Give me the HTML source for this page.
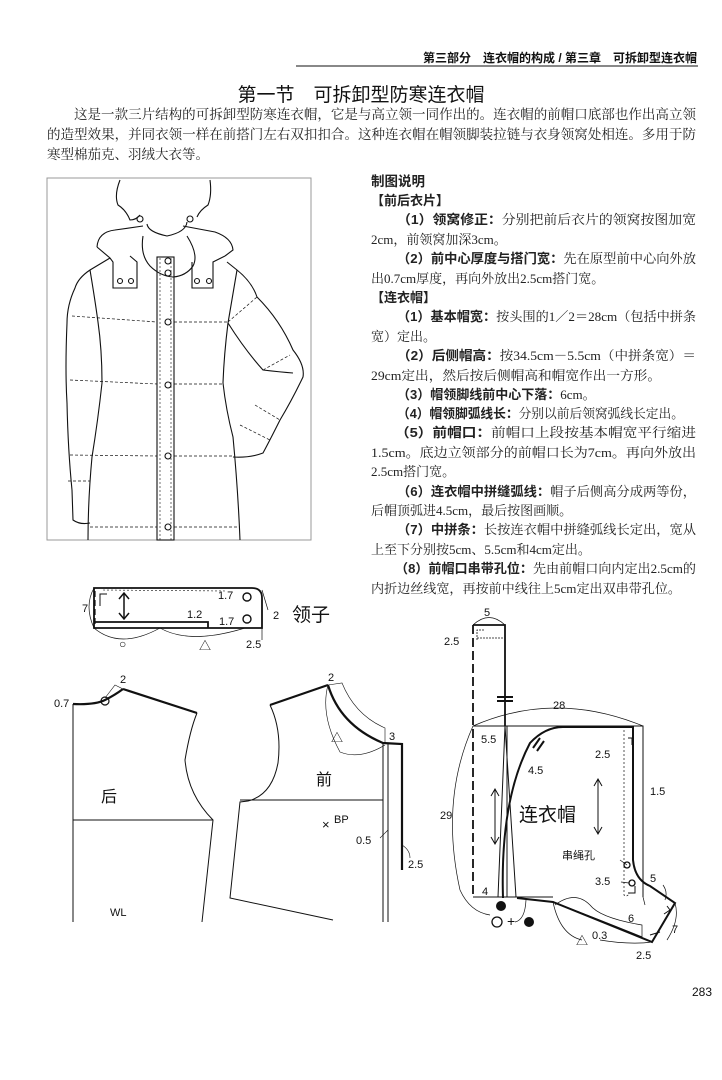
<!DOCTYPE html>
<html><head><meta charset="utf-8">
<style>
html,body{margin:0;padding:0;background:#fff;}
svg{display:block;}
.s{font-family:"Liberation Serif","Noto Serif CJK SC",serif;}
.h{font-family:"Liberation Sans","Noto Sans CJK SC",sans-serif;}
</style></head><body>
<svg width="722" height="1080" viewBox="0 0 722 1080" xmlns="http://www.w3.org/2000/svg" fill="none" stroke="#111" stroke-width="1">
<!-- header -->
<text x="697" y="62" text-anchor="end" class="h" font-size="12" font-weight="bold" fill="#111" stroke="none">第三部分　连衣帽的构成 / 第三章　可拆卸型连衣帽</text>
<line x1="296" y1="66" x2="698" y2="66" stroke-width="1"/>
<text x="361" y="101" text-anchor="middle" class="h" font-size="19" fill="#111" stroke="none">第一节　可拆卸型防寒连衣帽</text>
<g class="s" font-size="13.5" fill="#222" stroke="none">
<text x="74" y="119" textLength="622" lengthAdjust="spacingAndGlyphs">这是一款三片结构的可拆卸型防寒连衣帽，它是与高立领一同作出的。连衣帽的前帽口底部也作出高立领</text>
<text x="47" y="139" textLength="649" lengthAdjust="spacingAndGlyphs">的造型效果，并同衣领一样在前搭门左右双扣扣合。这种连衣帽在帽领脚装拉链与衣身领窝处相连。多用于防</text>
<text x="47" y="159">寒型棉茄克、羽绒大衣等。</text>
</g>
<!-- right column -->
<g class="s" font-size="13" fill="#222" stroke="none">
<text x="371" y="186" class="h" font-size="13.5" font-weight="bold">制图说明</text>
<text x="371" y="205" class="h" font-weight="bold">【前后衣片】</text>
<text x="397" y="224" textLength="299" lengthAdjust="spacingAndGlyphs"><tspan class="h" font-weight="bold">（1）领窝修正：</tspan>分别把前后衣片的领窝按图加宽</text>
<text x="371" y="244">2cm，前领窝加深3cm。</text>
<text x="397" y="263" textLength="299" lengthAdjust="spacingAndGlyphs"><tspan class="h" font-weight="bold">（2）前中心厚度与搭门宽：</tspan>先在原型前中心向外放</text>
<text x="371" y="283">出0.7cm厚度，再向外放出2.5cm搭门宽。</text>
<text x="371" y="302" class="h" font-weight="bold">【连衣帽】</text>
<text x="397" y="321" textLength="299" lengthAdjust="spacingAndGlyphs"><tspan class="h" font-weight="bold">（1）基本帽宽：</tspan>按头围的1／2＝28cm（包括中拼条</text>
<text x="371" y="341">宽）定出。</text>
<text x="397" y="360" textLength="299" lengthAdjust="spacingAndGlyphs"><tspan class="h" font-weight="bold">（2）后侧帽高：</tspan>按34.5cm－5.5cm（中拼条宽）＝</text>
<text x="371" y="380" textLength="290" lengthAdjust="spacingAndGlyphs">29cm定出，然后按后侧帽高和帽宽作出一方形。</text>
<text x="397" y="399"><tspan class="h" font-weight="bold">（3）帽领脚线前中心下落：</tspan>6cm。</text>
<text x="397" y="418" textLength="287" lengthAdjust="spacingAndGlyphs"><tspan class="h" font-weight="bold">（4）帽领脚弧线长：</tspan>分别以前后领窝弧线长定出。</text>
<text x="395" y="437" textLength="301" lengthAdjust="spacingAndGlyphs"><tspan class="h" font-weight="bold">（5）前帽口：</tspan>前帽口上段按基本帽宽平行缩进</text>
<text x="371" y="457" textLength="325" lengthAdjust="spacingAndGlyphs">1.5cm。底边立领部分的前帽口长为7cm。再向外放出</text>
<text x="371" y="476">2.5cm搭门宽。</text>
<text x="397" y="496" textLength="299" lengthAdjust="spacingAndGlyphs"><tspan class="h" font-weight="bold">（6）连衣帽中拼缝弧线：</tspan>帽子后侧高分成两等份，</text>
<text x="371" y="515">后帽顶弧进4.5cm，最后按图画顺。</text>
<text x="397" y="534" textLength="299" lengthAdjust="spacingAndGlyphs"><tspan class="h" font-weight="bold">（7）中拼条：</tspan>长按连衣帽中拼缝弧线长定出，宽从</text>
<text x="371" y="554">上至下分别按5cm、5.5cm和4cm定出。</text>
<text x="395" y="573" textLength="301" lengthAdjust="spacingAndGlyphs"><tspan class="h" font-weight="bold">（8）前帽口串带孔位：</tspan>先由前帽口向内定出2.5cm的</text>
<text x="371" y="593" textLength="310" lengthAdjust="spacingAndGlyphs">内折边丝线宽，再按前中线往上5cm定出双串带孔位。</text>
</g>

<!-- illustration -->
<rect x="47" y="178" width="264" height="362" stroke="#999"/>
<g stroke-width="1.1">
<path d="M120 180 Q114 195 118 205 Q126 210 130 220 Q136 220 140 215"/>
<path d="M210 180 Q212 195 208 205 Q200 210 197 217"/>
<path d="M147 224 Q148 232 167 236 Q186 232 187 222"/>
<circle cx="140" cy="219" r="3"/><circle cx="190" cy="219" r="3"/>
<path d="M97 247 Q98 232 115 230 L143 226"/>
<path d="M183 226 L215 232 Q232 238 233 250 L225 256"/>
<path d="M97 247 L110 258 L113 262 L113 288 L137 288 L137 262 L130 256"/>
<path d="M192 262 L192 288 L213 288 L213 262 L225 256"/>
<circle cx="120" cy="281" r="2.5"/><circle cx="131" cy="281" r="2.5"/>
<circle cx="197" cy="281" r="2.5"/><circle cx="209" cy="281" r="2.5"/>
<path d="M143 236 Q140 255 150 266 Q160 276 173 277 Q186 276 193 266 Q199 255 187 236"/>
<rect x="157" y="257" width="17" height="283"/>
<line x1="160" y1="258" x2="160" y2="540" stroke-dasharray="2 2" stroke-width=".6"/>
<line x1="171" y1="258" x2="171" y2="540" stroke-dasharray="2 2" stroke-width=".6"/>
<g fill="#fff"><circle cx="168" cy="261" r="3"/><circle cx="168" cy="273" r="3"/><circle cx="168" cy="322" r="3"/><circle cx="168" cy="385" r="3"/><circle cx="168" cy="456" r="3"/><circle cx="168" cy="527" r="3"/></g>
<path d="M90 270 Q95 300 98 322 Q102 350 102 383 Q98 420 92 457 Q88 500 88 540"/>
<path d="M110 258 L90 270 Q78 278 75 288 Q67 305 67 323 Q65 370 67 403 Q68 450 72 490 L73 520 Q80 525 90 523"/>
<path d="M237 270 Q232 300 228 323 Q224 355 223 383 Q226 410 233 437 Q238 490 240 540"/>
<path d="M227 262 L237 270 Q252 282 257 297 Q280 320 293 350 Q305 365 303 377 Q292 400 280 420 Q270 440 263 453 Q250 458 233 457"/>
<path d="M228 323 Q245 350 263 370 Q280 372 293 373"/>
<g stroke-dasharray="3 2" stroke-width=".7">
<line x1="72" y1="316" x2="157" y2="322"/><line x1="174" y1="322" x2="228" y2="322"/>
<line x1="70" y1="380" x2="157" y2="384"/><line x1="174" y1="384" x2="223" y2="384"/>
<line x1="70" y1="455" x2="157" y2="456"/><line x1="174" y1="456" x2="233" y2="456"/>
<line x1="90" y1="527" x2="157" y2="527"/><line x1="174" y1="527" x2="240" y2="527"/>
<line x1="228" y1="322" x2="257" y2="297"/><line x1="263" y1="370" x2="290" y2="355"/>
<line x1="68" y1="481" x2="90" y2="481"/>
<line x1="255" y1="405" x2="280" y2="420"/><line x1="240" y1="425" x2="270" y2="440"/>
</g>
</g>

<!-- collar -->
<g stroke-width="1.8">
<path d="M94 588 L252 588 Q262 588 262 598 L262 628 L94 628 Z"/>
<path d="M94 622 L208 622 L208 628"/>
</g>
<line x1="95" y1="591" x2="95" y2="626" stroke-dasharray="6 3" stroke-width="1.2"/>
<line x1="103" y1="590" x2="226" y2="591" stroke-dasharray="2 2" stroke-width=".6"/>
<path d="M100 606 V594 H107" stroke-width="1"/>
<line x1="124" y1="594" x2="124" y2="618" stroke-width="1.5"/>
<path d="M119 599 L124 593 L129 599 M119 613 L124 619 L129 613" stroke-width="1.5"/>
<circle cx="247" cy="597" r="4" stroke-width="1.4"/><circle cx="247" cy="619" r="4" stroke-width="1.4"/>
<path d="M94 588 Q84 606 94 628 M94 628 Q120 650 160 628 Q190 645 245 628 M262 590 L268 610 M262 628 L262 640" stroke-width=".7"/>
<g class="h" font-size="11" fill="#111" stroke="none">
<text x="82" y="612">7</text><text x="187" y="618">1.2</text><text x="218" y="599">1.7</text><text x="219" y="625">1.7</text>
<text x="273" y="619">2</text><text x="246" y="648">2.5</text>
<text x="292" y="621" font-size="19">领子</text>
<text x="119" y="648" font-size="12">○</text><text x="199" y="650" font-size="12">△</text>
<text x="54" y="707">0.7</text><text x="120" y="683">2</text>
<text x="101" y="802" font-size="16">后</text><text x="110" y="916">WL</text>
<text x="328" y="681">2</text><text x="389" y="740">3</text><text x="331" y="742" font-size="12">△</text>
<text x="316" y="785" font-size="16">前</text>
<text x="322" y="829" font-size="13">×</text><text x="334" y="823">BP</text>
<text x="356" y="844">0.5</text><text x="408" y="868">2.5</text>
</g>
<!-- back bodice -->
<path d="M73 704 Q95 705 105 700 Q115 695 123 689" stroke-width="2.2"/>
<path d="M123 689 L197 713" stroke-width="2.2"/>
<circle cx="105" cy="701" r="4" stroke-width="1.2"/>
<path d="M73 704 L73 922 M197 713 Q190 730 185 760 Q188 795 213 820 L202 922 M73 820 H213" stroke-width="1"/>
<path d="M105 698 L115 685 L123 689" stroke-width=".6"/>
<!-- front bodice -->
<path d="M270 705 L328 685" stroke-width="2.2"/>
<path d="M328 685 Q340 725 383 743 L402 744 L402 870" stroke-width="2.2"/>
<path d="M270 705 Q282 730 278 763 Q272 795 248 801 L240 802 L230 898 L333 920 M240 800 H383 M383 743 V922 M388 743 V922" stroke-width="1"/>
<path d="M328 685 L342 683 Q355 715 385 728 L385 742 M328 685 Q320 715 340 752 Q360 760 385 745 M388 830 L380 838 M402 845 Q410 850 410 858" stroke-width=".6"/>

<!-- hood strip -->
<line x1="473" y1="625" x2="473" y2="897" stroke-dasharray="9 4" stroke-width="1.8"/>
<path d="M473 625 H505 V726" stroke-width="1.8"/>
<path d="M505 726 L498 897 M505 726 L516 897 M507 726 V897" stroke-width="1"/>
<path d="M477 640 V630 H484 M477 638 H503" stroke-width=".8" stroke-dasharray="2 1"/>
<path d="M497 697 H513 M497 701 H513" stroke-width="2"/>
<!-- hood body -->
<path d="M473 726 H643 V897 M473 897 H553" stroke-width="1"/>
<path d="M503 898 Q500 800 530 743 Q545 727 563 727 H633 V860 Q635 880 650 886 L675 903 L652 942 L553 902 L517 898" stroke-width="2"/>
<path d="M553 902 Q600 920 642 937" stroke-width="1"/>
<path d="M533 748 L540 738 M537 751 L544 741" stroke-width="2"/>
<path d="M624 730 V895 Q626 898 630 893" stroke-dasharray="2 2" stroke-width=".7"/>
<path d="M628 738 H632 V745 M628 893 H635 V886 M664 914 L670 910 L667 906 M650 935 L660 932" stroke-width="1"/>
<line x1="495" y1="790" x2="495" y2="843" stroke-width="1"/><path d="M491 796 L495 789 L499 796 M491 837 L495 844 L499 837"/>
<line x1="598" y1="780" x2="598" y2="833" stroke-width="1"/><path d="M594 786 L598 779 L602 786 M594 827 L598 834 L602 827"/>
<circle cx="627" cy="865" r="3" stroke-width="1.3"/><circle cx="632" cy="883" r="3" stroke-width="1.3"/>
<g stroke-width=".7">
<path d="M473 726 Q440 800 460 890 Q470 912 490 915 M473 726 Q555 690 643 726 M473 625 Q489 610 505 625 M620 860 L627 865 M621 882 L629 883 M643 897 L645 905"/>
<path d="M526 900 Q525 920 515 922 M553 902 Q560 935 582 940 M600 940 Q630 945 652 942 M675 903 Q680 920 667 940 M663 885 Q668 892 665 900 M555 905 Q575 890 590 905 Q600 918 642 925 Q642 937 642 937"/>
</g>
<circle cx="501" cy="906" r="5" fill="#111" stroke="none"/>
<circle cx="529" cy="922" r="5" fill="#111" stroke="none"/>
<circle cx="497" cy="922" r="5" stroke-width="1.3"/>
<g class="h" font-size="11" fill="#111" stroke="none">
<text x="484" y="616">5</text><text x="444" y="645">2.5</text><text x="553" y="709">28</text>
<text x="481" y="743">5.5</text><text x="528" y="774">4.5</text><text x="440" y="819">29</text>
<text x="519" y="821" font-size="19">连衣帽</text>
<text x="595" y="758">2.5</text><text x="650" y="795">1.5</text>
<text x="562" y="859" font-size="11">串绳孔</text>
<text x="595" y="885">3.5</text><text x="650" y="882">5</text><text x="628" y="922">6</text>
<text x="672" y="933">7</text><text x="592" y="939">0.3</text><text x="576" y="945" font-size="12">△</text>
<text x="636" y="959">2.5</text><text x="482" y="895">4</text>
<text x="507" y="926" font-size="14">+</text>
<text x="692" y="996" font-size="12">283</text>
</g>
</svg>
</body></html>
